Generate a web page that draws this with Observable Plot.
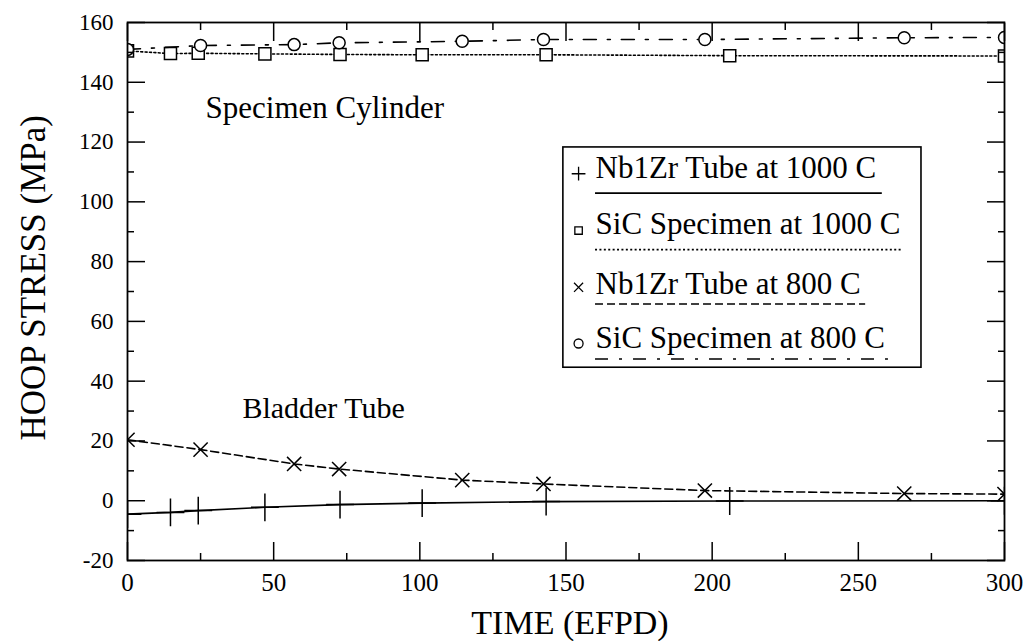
<!DOCTYPE html>
<html><head><meta charset="utf-8">
<script src="https://cdn.jsdelivr.net/npm/d3@7"></script>
<script src="https://cdn.jsdelivr.net/npm/@observablehq/plot@0.6"></script>
<style>body{margin:0;background:#fff;}</style>
</head><body><div id="chart"></div>
<script>
// Times (EFPD) of the solution points
const time1000 = [0, 14.7, 24.2, 47, 72.7, 100.8, 143.2, 206, 300];
const time800  = [0, 25, 57, 72.4, 114.5, 142.3, 197.5, 265.7, 300];
// Hoop stress (MPa)
const nb1000  = [-4.5, -3.9, -3.3, -2.2, -1.3, -0.8, -0.3, -0.1, 0];
const sic1000 = [150.5, 149.6, 149.7, 149.5, 149.3, 149.2, 149.2, 148.9, 148.8];
const nb800   = [20.4, 17.1, 12.3, 10.6, 6.9, 5.6, 3.4, 2.4, 2.2];
const sic800  = [151.0, 152.3, 152.6, 153.2, 153.7, 154.3, 154.3, 154.9, 155.0];

const seriesNames = ["Nb1Zr Tube at 1000 C", "SiC Specimen at 1000 C", "Nb1Zr Tube at 800 C", "SiC Specimen at 800 C"];
const xMajor = [0, 50, 100, 150, 200, 250, 300];
const xMinor = [25, 75, 125, 175, 225, 275];
const yMajor = [-20, 0, 20, 40, 60, 80, 100, 120, 140, 160];
const yMinor = [-10, 10, 30, 50, 70, 90, 110, 130, 150];
const annotations = ["Specimen Cylinder", "Bladder Tube"];
const xTitle = "TIME (EFPD)";
const yTitle = "HOOP STRESS (MPa)";

const styles = [
  {symbol: "plus",   r: 9,   lr: 4.5, dash: null},
  {symbol: "square", r: 6.8, lr: 4.2, dash: "2,2.4"},
  {symbol: "times",  r: 6.5, lr: 4.2, dash: "8,4"},
  {symbol: "circle", r: 6,   lr: 4.5, dash: "13,11,3,11"}
];
const seriesData = [
  {t: time1000, v: nb1000},
  {t: time1000, v: sic1000},
  {t: time800, v: nb800},
  {t: time800, v: sic800}
];

// legend layout (data units)
const legendBox = {x1: 149.1, x2: 271.6, y1: 44.5, y2: 118.2};
const legendTextX = 160.1, legendMarkX = 154.3;
const legendTextY = [108.1, 89.4, 69.3, 51.2];
const legendMarkY = [109.4, 90.4, 71.4, 52.6];
const legendLineY = [102.9, 84.0, 65.8, 47.4];
const legendLineX2 = [258.2, 265.4, 252.5, 260.3];
// axis-title anchors (data units, outside the frame)
const yTitlePos = {x: -32.2, y: 74.6};

const font = "'Liberation Serif', 'Times New Roman', serif";
const marks = [];

seriesData.forEach((s, i) => {
  const pts = s.t.map((t, j) => ({t, v: s.v[j]}));
  const st = styles[i];
  marks.push(Plot.line(pts, {x: "t", y: "v", stroke: "black", strokeWidth: 1.6, strokeDasharray: st.dash, clip: "frame"}));
  marks.push(Plot.dot(pts, {x: "t", y: "v", symbol: st.symbol, r: st.r, stroke: "black", strokeWidth: 1.5, fill: (st.symbol === "square" || st.symbol === "circle") ? "white" : "none", clip: "frame"}));
  // legend
  marks.push(Plot.dot([seriesNames[i]], {x: legendMarkX, y: legendMarkY[i], symbol: st.symbol, r: st.lr, stroke: "black", strokeWidth: 1.3, fill: "none"}));
  marks.push(Plot.text([seriesNames[i]], {x: legendTextX, y: legendTextY[i], text: d => d, textAnchor: "start", lineAnchor: "bottom", fontSize: 31, fontFamily: font, fill: "black"}));
  marks.push(Plot.ruleY([legendLineY[i]], {x1: legendTextX, x2: legendLineX2[i], stroke: "black", strokeWidth: 1.6, strokeDasharray: st.dash}));
});

marks.push(Plot.rect([legendBox], {x1: "x1", x2: "x2", y1: "y1", y2: "y2", fill: "none", stroke: "black", strokeWidth: 1.6}));

marks.push(Plot.text([annotations[0]], {x: 26.7, y: 127.9, text: d => d, textAnchor: "start", lineAnchor: "bottom", fontSize: 31, fontFamily: font}));
marks.push(Plot.text([annotations[1]], {x: 39.3, y: 27.8, text: d => d, textAnchor: "start", lineAnchor: "bottom", fontSize: 30, fontFamily: font}));

// ticks (inward), all four sides
for (const anchor of ["bottom", "top"]) {
  marks.push(Plot.axisX({anchor, ticks: xMajor, tickSize: -18, fill: "none", label: null, strokeWidth: 1.5}));
  marks.push(Plot.axisX({anchor, ticks: xMinor, tickSize: -7, fill: "none", label: null, strokeWidth: 1.5}));
}
for (const anchor of ["left", "right"]) {
  marks.push(Plot.axisY({anchor, ticks: yMajor, tickSize: -18, fill: "none", label: null, strokeWidth: 1.5}));
  marks.push(Plot.axisY({anchor, ticks: yMinor, tickSize: -7, fill: "none", label: null, strokeWidth: 1.5}));
}
// tick labels
marks.push(Plot.axisX({anchor: "bottom", ticks: xMajor, tickSize: 0, tickPadding: 13, label: null, tickFormat: d => `${d}`, fontSize: 25, fontFamily: font, fill: "black"}));
marks.push(Plot.axisY({anchor: "left", ticks: yMajor, tickSize: 0, tickPadding: 14, label: null, tickFormat: d => `${d}`, fontSize: 23, fontFamily: font, fill: "black"}));

marks.push(Plot.frame({stroke: "black", strokeWidth: 1.8}));

// axis titles
marks.push(Plot.text([xTitle], {frameAnchor: "bottom", dy: 73, dx: 4, lineAnchor: "bottom", text: d => d, fontSize: 34, fontFamily: font}));
marks.push(Plot.text([yTitle], {x: yTitlePos.x, y: yTitlePos.y, rotate: -90, lineAnchor: "middle", text: d => d, fontSize: 35, fontFamily: font}));

const chart = Plot.plot({
  width: 1029, height: 641,
  marginLeft: 127, marginRight: 25, marginTop: 22, marginBottom: 81,
  x: {domain: [0, 300]},
  y: {domain: [-20, 160]},
  style: {fontFamily: font, background: "white", color: "black"},
  marks
});
document.getElementById("chart").appendChild(chart);
</script>
</body></html>
